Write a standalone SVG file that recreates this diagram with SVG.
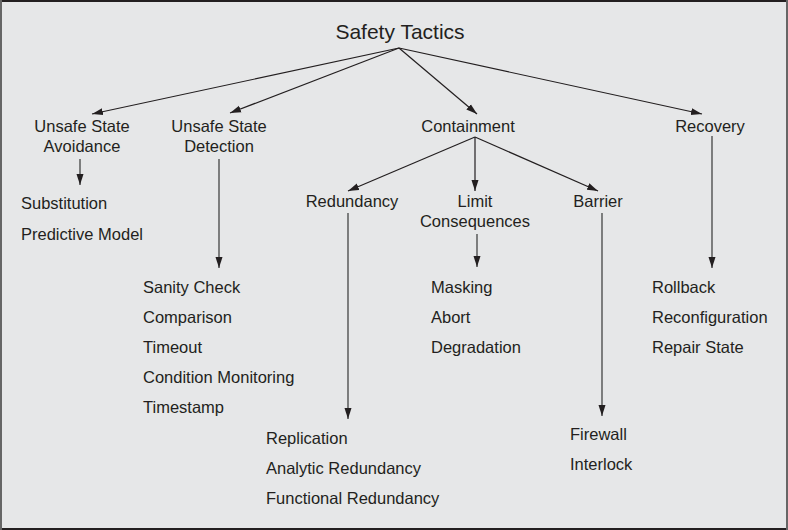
<svg xmlns="http://www.w3.org/2000/svg" width="788" height="530" viewBox="0 0 788 530">
<style>
text{font-family:"Liberation Sans",Arial,sans-serif;font-size:16.5px;fill:#231f20}
.c{text-anchor:middle}
.t{font-size:21px}
.ln{stroke:#231f20;stroke-width:1.2;fill:none}
.v{stroke:#444;stroke-width:1.3;fill:none}
</style>
<defs>
<marker id="ah" markerUnits="userSpaceOnUse" markerWidth="11" markerHeight="8" refX="11" refY="3.5" orient="auto" viewBox="0 0 11 7">
<path d="M0,0 L11,3.5 L0,7 z" fill="#231f20"/>
</marker>
</defs>
<rect x="0" y="0" width="788" height="530" fill="#e6e7e8"/>
<line x1="0" y1="1" x2="788" y2="1" stroke="#231f20" stroke-width="2"/>
<line x1="0" y1="529" x2="788" y2="529" stroke="#231f20" stroke-width="2"/>
<line x1="1" y1="0" x2="1" y2="530" stroke="#666" stroke-width="2"/>
<line x1="787" y1="0" x2="787" y2="530" stroke="#666" stroke-width="2"/>

<g id="connectors">
<line class="ln" x1="399" y1="48" x2="92" y2="114" marker-end="url(#ah)"/>
<line class="ln" x1="399" y1="48" x2="230" y2="113" marker-end="url(#ah)"/>
<line class="ln" x1="399" y1="48" x2="477" y2="114" marker-end="url(#ah)"/>
<line class="ln" x1="399" y1="48" x2="702" y2="114" marker-end="url(#ah)"/>
<line class="ln" x1="475" y1="137" x2="348" y2="191" marker-end="url(#ah)"/>
<line class="ln" x1="475" y1="137" x2="475" y2="191" marker-end="url(#ah)"/>
<line class="ln" x1="475" y1="137" x2="598" y2="191" marker-end="url(#ah)"/>
<line class="v" x1="80" y1="159" x2="80" y2="185" marker-end="url(#ah)"/>
<line class="v" x1="219" y1="159" x2="219" y2="268" marker-end="url(#ah)"/>
<line class="v" x1="348" y1="213" x2="348" y2="419" marker-end="url(#ah)"/>
<line class="v" x1="477" y1="234" x2="477" y2="267" marker-end="url(#ah)"/>
<line class="v" x1="602" y1="213" x2="602" y2="416" marker-end="url(#ah)"/>
<line class="v" x1="712" y1="136" x2="712" y2="268" marker-end="url(#ah)"/>
</g>

<g id="safety-tactics"><text class="c t" x="400" y="39">Safety Tactics</text></g>
<g id="unsafe-state-avoidance"><text class="c" x="82" y="132">Unsafe State</text><text class="c" x="82" y="152">Avoidance</text></g>
<g id="unsafe-state-detection"><text class="c" x="219" y="132">Unsafe State</text><text class="c" x="219" y="152">Detection</text></g>
<g id="containment"><text class="c" x="468" y="132">Containment</text></g>
<g id="recovery"><text class="c" x="710" y="132">Recovery</text></g>
<g id="redundancy"><text class="c" x="352" y="207">Redundancy</text></g>
<g id="limit-consequences"><text class="c" x="475" y="207">Limit</text><text class="c" x="475" y="227">Consequences</text></g>
<g id="barrier"><text class="c" x="598" y="207">Barrier</text></g>

<g id="avoidance-list"><text x="21" y="209">Substitution</text><text x="21" y="240">Predictive Model</text></g>
<g id="detection-list"><text x="143" y="293">Sanity Check</text><text x="143" y="323">Comparison</text><text x="143" y="353">Timeout</text><text x="143" y="383">Condition Monitoring</text><text x="143" y="413">Timestamp</text></g>
<g id="redundancy-list"><text x="266" y="444">Replication</text><text x="266" y="474">Analytic Redundancy</text><text x="266" y="504">Functional Redundancy</text></g>
<g id="limit-list"><text x="431" y="293">Masking</text><text x="431" y="323">Abort</text><text x="431" y="353">Degradation</text></g>
<g id="barrier-list"><text x="570" y="440">Firewall</text><text x="570" y="470">Interlock</text></g>
<g id="recovery-list"><text x="652" y="293">Rollback</text><text x="652" y="323">Reconfiguration</text><text x="652" y="353">Repair State</text></g>
</svg>
